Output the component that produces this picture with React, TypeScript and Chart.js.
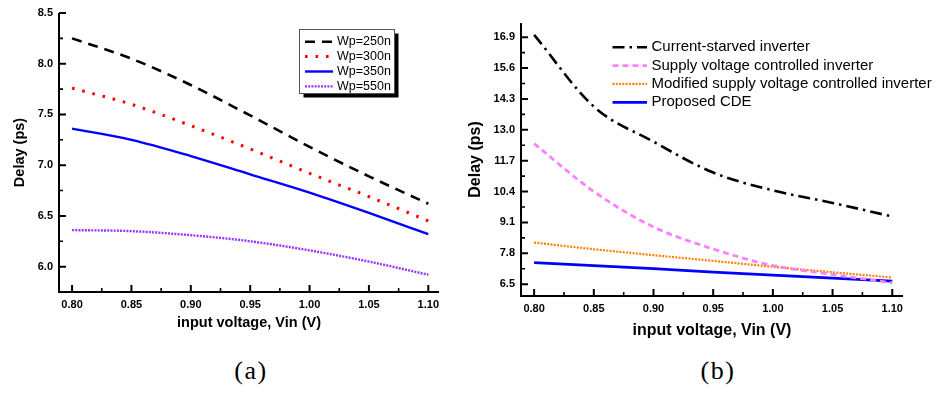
import React, { useEffect, useRef } from "react";
import { Chart, registerables } from "chart.js";

Chart.register(...registerables);

// ---------- data ----------
const vin = [0.8, 0.85, 0.9, 0.95, 1.0, 1.05, 1.1];

// (a) delay (ps) vs Vin for several PMOS widths
const wp250 = [8.25, 8.05, 7.79, 7.49, 7.18, 6.89, 6.62];
const wp300 = [7.76, 7.6, 7.39, 7.16, 6.92, 6.69, 6.45];
const wp350 = [7.36, 7.25, 7.09, 6.91, 6.73, 6.53, 6.32];
const wp550 = [6.36, 6.35, 6.31, 6.25, 6.16, 6.05, 5.92];
const labelsA = ["Wp=250n", "Wp=300n", "Wp=350n", "Wp=550n"];

// (b) delay (ps) vs Vin for several delay elements
const currentStarved = [17.0, 13.98, 12.5, 11.2, 10.45, 9.92, 9.35];
const supplyControlled = [12.42, 10.4, 8.91, 7.98, 7.28, 6.91, 6.55];
const modifiedSupply = [8.25, 7.97, 7.72, 7.48, 7.23, 7.0, 6.78];
const proposedCDE = [7.41, 7.28, 7.15, 7.01, 6.88, 6.75, 6.63];
const labelsB = [
  "Current-starved inverter",
  "Supply voltage controlled inverter",
  "Modified supply voltage controlled inverter",
  "Proposed CDE",
];

// ticks
const xMajorTicks = [0.8, 0.85, 0.9, 0.95, 1.0, 1.05, 1.1];
const xMinorTicks = [0.825, 0.875, 0.925, 0.975, 1.025, 1.075];
const yMajorTicksA = [6.0, 6.5, 7.0, 7.5, 8.0, 8.5];
const yMinorTicksA = [6.25, 6.75, 7.25, 7.75, 8.25];
const yMajorTicksB = [6.5, 7.8, 9.1, 10.4, 11.7, 13.0, 14.3, 15.6, 16.9];
const yMinorTicksB = [7.15, 8.45, 9.75, 11.05, 12.35, 13.65, 14.95, 16.25];

const xTitle = "input voltage, Vin (V)";
const yTitle = "Delay (ps)";

// ---------- helpers ----------
const SANS = "'Liberation Sans', Arial, Helvetica, sans-serif";
const pts = (ys: number[]) => vin.map((x, i) => ({ x, y: ys[i] }));

const axisDecor = {
  id: "axisDecor",
  afterDatasetsDraw(chart: any, _args: any, o: any) {
    if (!o) return;
    const { ctx, chartArea: ca, scales } = chart;
    const xs = scales.x;
    const ys = scales.y;
    ctx.save();
    ctx.strokeStyle = "#000";
    ctx.lineCap = "butt";
    const tickX = (vals: number[], len: number, w: number) => {
      ctx.lineWidth = w;
      ctx.beginPath();
      vals.forEach((v) => {
        const p = xs.getPixelForValue(v);
        ctx.moveTo(p, ca.bottom);
        ctx.lineTo(p, ca.bottom - len);
      });
      ctx.stroke();
    };
    const tickY = (vals: number[], len: number, w: number) => {
      ctx.lineWidth = w;
      ctx.beginPath();
      vals.forEach((v) => {
        const p = ys.getPixelForValue(v);
        ctx.moveTo(ca.left, p);
        ctx.lineTo(ca.left + len, p);
      });
      ctx.stroke();
    };
    tickX(o.xMajor, 7, 2);
    tickX(o.xMinor, 4, 1.6);
    tickY(o.yMajor, 7, 2);
    tickY(o.yMinor, 4, 1.6);
    // axis lines
    ctx.lineWidth = 2;
    ctx.beginPath();
    ctx.moveTo(ca.left, ca.top);
    ctx.lineTo(ca.left, ca.bottom);
    ctx.lineTo(ca.right, ca.bottom);
    ctx.stroke();
    ctx.restore();
  },
};

const insideLegend = {
  id: "insideLegend",
  afterDraw(chart: any, _args: any, o: any) {
    if (!o || o.x === undefined) return;
    const ctx = chart.ctx;
    ctx.save();
    if (o.box) {
      const b = o.box;
      ctx.fillStyle = "#000";
      ctx.fillRect(b.x + b.shadow, b.y + b.shadow, b.w, b.h);
      ctx.fillStyle = "#fff";
      ctx.fillRect(b.x, b.y, b.w, b.h);
      ctx.strokeStyle = "#555";
      ctx.lineWidth = 1;
      ctx.strokeRect(b.x + 0.5, b.y + 0.5, b.w, b.h);
    }
    chart.data.datasets.forEach((ds: any, i: number) => {
      const yy = o.y + i * o.rowH;
      ctx.setLineDash(ds.borderDash || []);
      ctx.lineDashOffset = 0;
      ctx.lineCap = ds.borderCapStyle || "butt";
      ctx.lineWidth = ds.borderWidth;
      ctx.strokeStyle = ds.borderColor;
      ctx.beginPath();
      ctx.moveTo(o.x, yy);
      ctx.lineTo(o.x + o.lineLen, yy);
      ctx.stroke();
      ctx.setLineDash([]);
      ctx.fillStyle = "#000";
      ctx.font = o.font;
      ctx.textBaseline = "middle";
      ctx.textAlign = "left";
      ctx.fillText(ds.label, o.x + o.lineLen + o.gap, yy);
    });
    ctx.restore();
  },
};

function makeScales(opts: {
  yMin: number;
  yMax: number;
  yMajor: number[];
  yWidth: number;
  xHeight: number;
  titleSize: number;
  yTitlePadTop: number;
  xTitlePadBottom: number;
}) {
  const tickFont = { family: SANS, size: 11, weight: "bold" as const };
  const titleFont = { family: SANS, size: opts.titleSize, weight: "bold" as const };
  return {
    x: {
      type: "linear" as const,
      min: 0.789,
      max: 1.109,
      afterBuildTicks: (s: any) => {
        s.ticks = xMajorTicks.map((v) => ({ value: v }));
      },
      afterFit: (s: any) => {
        s.height = opts.xHeight;
        s.paddingLeft = 0;
        s.paddingRight = 0;
      },
      ticks: {
        callback: (v: any) => Number(v).toFixed(2),
        font: tickFont,
        color: "#000",
        padding: 6,
        maxRotation: 0,
        autoSkip: false,
      },
      grid: { display: false, drawTicks: false },
      border: { display: false },
      title: {
        display: true,
        text: xTitle,
        color: "#000",
        font: titleFont,
        padding: { top: 0, bottom: opts.xTitlePadBottom },
      },
    },
    y: {
      type: "linear" as const,
      min: opts.yMin,
      max: opts.yMax,
      afterBuildTicks: (s: any) => {
        s.ticks = opts.yMajor.map((v) => ({ value: v }));
      },
      afterFit: (s: any) => {
        s.width = opts.yWidth;
        s.paddingTop = 0;
        s.paddingBottom = 0;
      },
      ticks: {
        callback: (v: any) => Number(v).toFixed(1),
        font: tickFont,
        color: "#000",
        padding: 6,
        autoSkip: false,
      },
      grid: { display: false, drawTicks: false },
      border: { display: false },
      title: {
        display: true,
        text: yTitle,
        color: "#000",
        font: titleFont,
        padding: { top: opts.yTitlePadTop, bottom: 0 },
      },
    },
  };
}

const lineCommon = {
  pointRadius: 0,
  pointHoverRadius: 0,
  fill: false,
  cubicInterpolationMode: "monotone" as const,
};

function configA(): any {
  return {
    type: "line",
    data: {
      datasets: [
        { ...lineCommon, label: labelsA[0], data: pts(wp250), borderColor: "#000000", borderWidth: 2.6, borderDash: [10, 7] },
        { ...lineCommon, label: labelsA[1], data: pts(wp300), borderColor: "#ff0000", borderWidth: 3, borderDash: [2.6, 7.9] },
        { ...lineCommon, label: labelsA[2], data: pts(wp350), borderColor: "#0000ff", borderWidth: 2.4 },
        { ...lineCommon, label: labelsA[3], data: pts(wp550), borderColor: "#9933ff", borderWidth: 2.4, borderDash: [2, 1.2] },
      ],
    },
    options: {
      responsive: false,
      animation: false,
      devicePixelRatio: 1,
      events: [],
      layout: { padding: { top: 13, right: 31, left: 0, bottom: 0 } },
      plugins: {
        legend: { display: false },
        tooltip: { enabled: false },
        axisDecor: { xMajor: xMajorTicks, xMinor: xMinorTicks, yMajor: yMajorTicksA, yMinor: yMinorTicksA },
        insideLegend: {
          x: 305,
          y: 41.7,
          lineLen: 28,
          gap: 4,
          rowH: 14.9,
          font: "12.5px " + SANS,
          box: { x: 299, y: 29, w: 95, h: 64, shadow: 4.5 },
        },
      },
      scales: makeScales({
        yMin: 5.75,
        yMax: 8.5,
        yMajor: yMajorTicksA,
        yWidth: 59,
        xHeight: 53,
        titleSize: 14.5,
        yTitlePadTop: 10.8,
        xTitlePadBottom: 13.3,
      }),
    },
    plugins: [axisDecor, insideLegend],
  };
}

function configB(): any {
  return {
    type: "line",
    data: {
      datasets: [
        { ...lineCommon, label: labelsB[0], data: pts(currentStarved), borderColor: "#000000", borderWidth: 2.6, borderDash: [12, 5, 2.5, 5] },
        { ...lineCommon, label: labelsB[1], data: pts(supplyControlled), borderColor: "#ff80ff", borderWidth: 2.8, borderDash: [6, 4] },
        { ...lineCommon, label: labelsB[2], data: pts(modifiedSupply), borderColor: "#ff8000", borderWidth: 2.2, borderDash: [2, 1.3] },
        { ...lineCommon, label: labelsB[3], data: pts(proposedCDE), borderColor: "#0000ff", borderWidth: 2.8 },
      ],
    },
    options: {
      responsive: false,
      animation: false,
      devicePixelRatio: 1,
      events: [],
      layout: { padding: { top: 23, right: 36, left: 0, bottom: 0 } },
      plugins: {
        legend: { display: false },
        tooltip: { enabled: false },
        axisDecor: { xMajor: xMajorTicks, xMinor: xMinorTicks, yMajor: yMajorTicksB, yMinor: yMinorTicksB },
        insideLegend: {
          x: 150.5,
          y: 47.3,
          lineLen: 34.5,
          gap: 4.5,
          rowH: 18.33,
          font: "15px " + SANS,
        },
      },
      scales: makeScales({
        yMin: 6.0,
        yMax: 17.5,
        yMajor: yMajorTicksB,
        yWidth: 59,
        xHeight: 49,
        titleSize: 16,
        yTitlePadTop: 3.9,
        xTitlePadBottom: 4.9,
      }),
    },
    plugins: [axisDecor, insideLegend],
  };
}

function ChartCanvas(props: { make: () => any; left: number; width: number; height: number }) {
  const ref = useRef<HTMLCanvasElement>(null);
  useEffect(() => {
    if (!ref.current) return;
    const chart = new Chart(ref.current, props.make());
    return () => chart.destroy();
  }, []);
  return (
    <canvas
      ref={ref}
      width={props.width}
      height={props.height}
      style={{
        position: "absolute",
        left: props.left,
        top: 0,
        width: props.width,
        height: props.height,
      }}
    />
  );
}

const captionStyle: React.CSSProperties = {
  position: "absolute",
  top: 356,
  transform: "translateX(-50%)",
  fontFamily: "'Liberation Serif', 'Times New Roman', serif",
  fontSize: 26,
  lineHeight: "30px",
  letterSpacing: 1.5,
  color: "#000",
  whiteSpace: "nowrap",
};

export default function App() {
  return (
    <div
      style={{
        position: "absolute",
        left: 0,
        top: 0,
        width: 939,
        height: 396,
        background: "#fff",
        overflow: "hidden",
      }}
    >
      <ChartCanvas make={configA} left={0} width={470} height={345} />
      <ChartCanvas make={configB} left={462} width={477} height={345} />
      <div style={{ ...captionStyle, left: 251 }}>(a)</div>
      <div style={{ ...captionStyle, left: 718 }}>(b)</div>
    </div>
  );
}
